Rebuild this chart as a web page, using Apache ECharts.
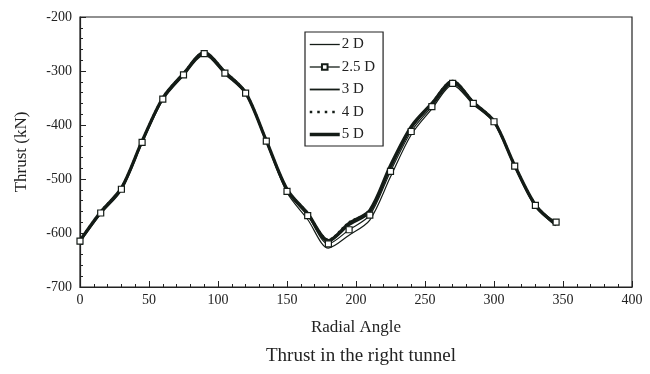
<!DOCTYPE html>
<html><head><meta charset="utf-8">
<script src="https://cdn.jsdelivr.net/npm/echarts@6/dist/echarts.min.js"></script>
<style>html,body{margin:0;padding:0;background:#fff}#c{width:650px;height:374px}</style>
</head><body><div id="c"></div>
<script>
const angles = [0,15,30,45,60,75,90,105,120,135,150,165,180,195,210,225,240,255,270,285,300,315,330,345];
const d2   = [-617,-565,-521,-434,-354,-309,-270,-306,-343,-432,-525,-575,-628,-604,-576,-496,-418,-370,-326,-362,-396,-478,-552,-586];
const d25  = [-615,-563,-519,-432,-352,-307,-268,-304,-341,-430,-523,-568,-620,-594,-567,-486,-412,-366,-323,-360,-394,-476,-549,-580];
const d3   = [-614,-561,-517,-430,-350,-305,-266,-302,-340,-429,-520,-566,-616,-586,-562,-480,-407,-362,-320,-358,-393,-475,-548,-584];
const d4   = [-613,-560,-516,-429,-349,-304,-265,-301,-339,-428,-518,-563,-612,-580,-559,-477,-404,-359,-318,-357,-392,-474,-547,-585];
const d5   = [-614,-561,-517,-430,-350,-305,-266,-302,-340,-429,-519,-564,-614,-582,-558,-475,-403,-360,-319,-358,-393,-475,-548,-585];
const seriesNames = ['2 D','2.5 D','3 D','4 D','5 D'];
const yTicks = [-200,-300,-400,-500,-600,-700];
const xTicks = [0,50,100,150,200,250,300,350,400];

const C = '#141c17';
const font = '"Liberation Serif","DejaVu Serif",serif';
function pts(arr){ return angles.map((a,i)=>[a,arr[i]]); }
const hide = {opacity:0};
const chart = echarts.init(document.getElementById('c'));
chart.setOption({
  backgroundColor:'#fff',
  animation:false,
  grid:{left:80,right:18,top:17,bottom:87,show:true,borderColor:'#222',borderWidth:1.2},
  title:{text:'Thrust in the right tunnel',left:356,top:342,
    textAlign:'center',textStyle:{fontFamily:font,fontSize:19,fontWeight:'normal',color:'#222'}},
  legend:{orient:'vertical',left:305,top:32,itemWidth:30,itemHeight:7,itemGap:7.5,
    padding:[5,8,4,3],borderColor:'#222',borderWidth:1.2,backgroundColor:'#fff',
    textStyle:{fontFamily:font,fontSize:15,color:'#222',padding:[0,0,0,-3]},
    data:[
      {name:seriesNames[0],itemStyle:hide,lineStyle:{width:1.3}},
      {name:seriesNames[1],lineStyle:{width:1.3}},
      {name:seriesNames[2],itemStyle:hide,lineStyle:{width:1.8}},
      {name:seriesNames[3],itemStyle:hide,lineStyle:{width:2.5,type:[2.5,5]}},
      {name:seriesNames[4],itemStyle:hide,lineStyle:{width:3.5}}
    ]},
  xAxis:{type:'value',min:0,max:400,interval:50,
    name:'Radial Angle',nameLocation:'middle',nameGap:32,
    nameTextStyle:{fontFamily:font,fontSize:17,color:'#222'},
    axisLine:{lineStyle:{color:'#222',width:1.2}},
    axisTick:{inside:true,length:6,lineStyle:{color:'#222'}},
    minorTick:{show:true,splitNumber:5,length:3,lineStyle:{color:'#222'}},
    splitLine:{show:false},
    axisLabel:{fontFamily:font,fontSize:14,color:'#222',margin:6}},
  yAxis:{type:'value',min:-700,max:-200,interval:100,
    name:'Thrust (kN)',nameLocation:'middle',nameGap:50,nameRotate:90,
    nameTextStyle:{fontFamily:font,fontSize:17,color:'#222'},
    axisLine:{lineStyle:{color:'#222',width:1.2}},
    axisTick:{inside:true,length:6,lineStyle:{color:'#222'}},
    minorTick:{show:true,splitNumber:5,length:3,lineStyle:{color:'#222'}},
    splitLine:{show:false},
    axisLabel:{fontFamily:font,fontSize:14,color:'#222',margin:8}},
  series:[
    {name:seriesNames[0],type:'line',data:pts(d2),smooth:0.3,symbol:'none',lineStyle:{color:C,width:1.2},itemStyle:{color:C}},
    {name:seriesNames[2],type:'line',data:pts(d3),smooth:0.3,symbol:'none',lineStyle:{color:C,width:1.6},itemStyle:{color:C}},
    {name:seriesNames[3],type:'line',data:pts(d4),smooth:0.3,symbol:'none',lineStyle:{color:C,width:2,type:[2,3]},itemStyle:{color:C}},
    {name:seriesNames[4],type:'line',data:pts(d5),smooth:0.3,symbol:'none',lineStyle:{color:C,width:3.2},itemStyle:{color:C}},
    {name:seriesNames[1],type:'line',data:pts(d25),smooth:0.3,symbol:'rect',symbolSize:6,
      lineStyle:{color:C,width:1.2},itemStyle:{color:'#fff',borderColor:C,borderWidth:1.2},z:5}
  ]
});
</script></body></html>
